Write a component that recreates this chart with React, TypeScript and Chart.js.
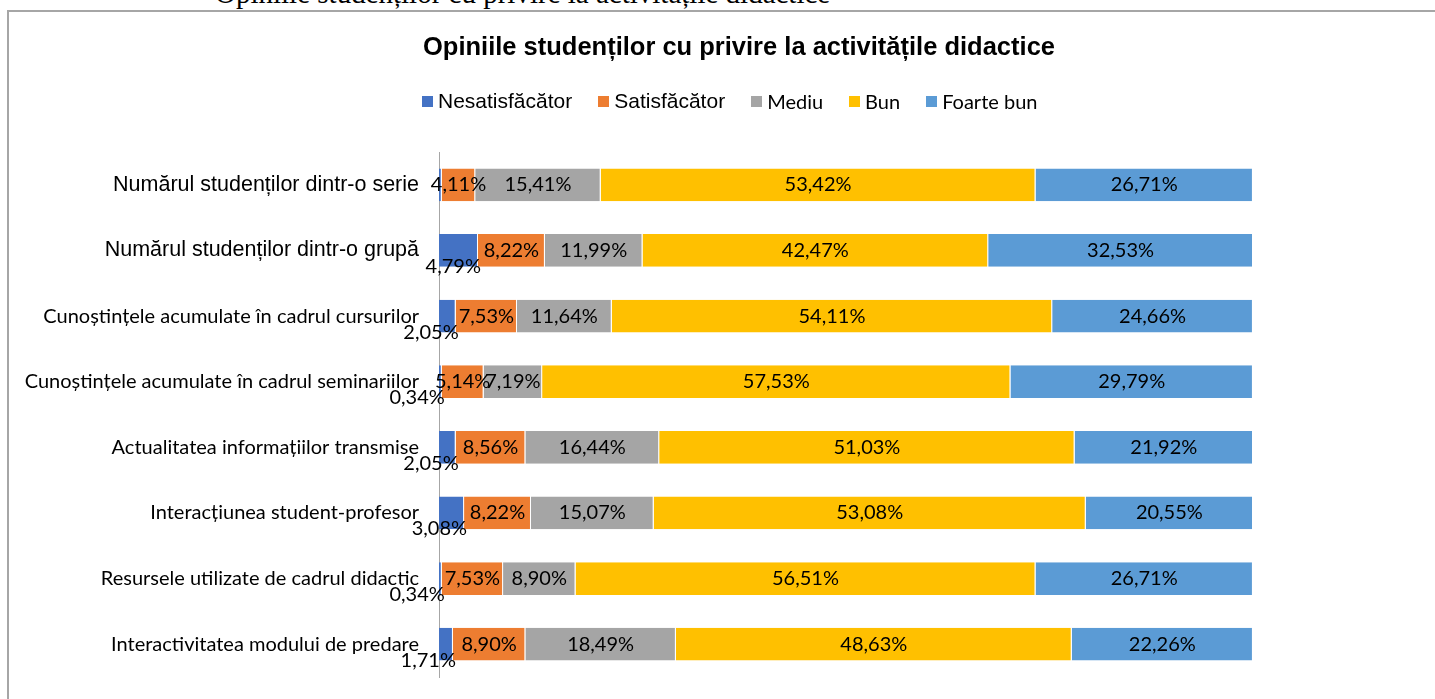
import React, { useEffect, useRef } from "react";
import { Chart, registerables } from "chart.js";

Chart.register(...registerables);

const pageHeading = "Opiniile studenților cu privire la activitățile didactice";
const chartTitle = "Opiniile studenților cu privire la activitățile didactice";

const categories = [
  "Numărul studenților dintr-o serie",
  "Numărul studenților dintr-o grupă",
  "Cunoștințele acumulate în cadrul cursurilor",
  "Cunoștințele acumulate în cadrul seminariilor",
  "Actualitatea informațiilor transmise",
  "Interacțiunea student-profesor",
  "Resursele utilizate de cadrul didactic",
  "Interactivitatea modului de predare",
];

const seriesNames = ["Nesatisfăcător", "Satisfăcător", "Mediu", "Bun", "Foarte bun"];

const nesatisfacator = [0.34, 4.79, 2.05, 0.34, 2.05, 3.08, 0.34, 1.71];
const satisfacator = [4.11, 8.22, 7.53, 5.14, 8.56, 8.22, 7.53, 8.9];
const mediu = [15.41, 11.99, 11.64, 7.19, 16.44, 15.07, 8.9, 18.49];
const bun = [53.42, 42.47, 54.11, 57.53, 51.03, 53.08, 56.51, 48.63];
const foarteBun = [26.71, 32.53, 24.66, 29.79, 21.92, 20.55, 26.71, 22.26];

// labels of the first series that are not shown in the original
const hiddenFirstSeriesLabels = [0];

const seriesColors = ["#4472C4", "#ED7D31", "#A5A5A5", "#FFC000", "#5B9BD5"];

const ARIAL = "'Liberation Sans', Arial, sans-serif";
const CALIBRI = "Lato, 'Open Sans', sans-serif";
const arialTickRows = [0, 1];
const arialLegendItems = [0, 1];

const fmt = (v: number) => v.toFixed(2).replace(".", ",") + "%";

const dataLabelPlugin = {
  id: "segmentLabels",
  afterDatasetsDraw(chart: any) {
    const ctx = chart.ctx;
    ctx.save();
    ctx.fillStyle = "#000";
    ctx.font = `20px ${CALIBRI}`;
    ctx.textBaseline = "middle";
    chart.data.datasets.forEach((ds: any, di: number) => {
      const meta = chart.getDatasetMeta(di);
      meta.data.forEach((el: any, i: number) => {
        if (di === 0 && hiddenFirstSeriesLabels.includes(i)) return;
        const t = fmt(ds.data[i] as number);
        if (di === 0) {
          ctx.textAlign = "right";
          ctx.fillText(t, el.x + 3, el.y + 16);
        } else {
          ctx.textAlign = "center";
          ctx.fillText(t, (el.x + el.base) / 2, el.y);
        }
      });
    });
    ctx.restore();
  },
};

export default function App() {
  const canvasRef = useRef<HTMLCanvasElement | null>(null);

  useEffect(() => {
    const canvas = canvasRef.current;
    if (!canvas) return;
    const values = [nesatisfacator, satisfacator, mediu, bun, foarteBun];
    const chart = new Chart(canvas, {
      type: "bar",
      data: {
        labels: categories,
        datasets: seriesNames.map((name, i) => ({
          label: name,
          data: values[i],
          backgroundColor: seriesColors[i],
          borderColor: "#ffffff",
          borderWidth: { top: 0, bottom: 0, left: 0, right: 1 },
          borderSkipped: false,
          barPercentage: 0.5,
          categoryPercentage: 1,
        })),
      },
      options: {
        indexAxis: "y",
        responsive: false,
        animation: false,
        layout: { padding: { left: 0, right: 216, top: 140, bottom: 35 } },
        plugins: {
          legend: { display: false },
          tooltip: { enabled: false },
          title: { display: false },
        },
        scales: {
          x: { type: "linear", stacked: true, min: 0, max: 100, display: false },
          y: {
            type: "category",
            stacked: true,
            grid: { display: false, drawTicks: false },
            border: { display: true, color: "#a6a6a6", width: 1 },
            ticks: {
              color: "#000",
              padding: 20,
              autoSkip: false,
              font: (c: any) =>
                arialTickRows.includes(c.index)
                  ? { family: ARIAL, size: 21.5 }
                  : { family: CALIBRI, size: 20 },
            },
            afterFit: (s: any) => {
              s.width = 430;
            },
          },
        },
      },
      plugins: [dataLabelPlugin],
    } as any);
    return () => chart.destroy();
  }, []);

  return (
    <div
      style={{
        position: "fixed",
        left: 0,
        top: 0,
        width: "100vw",
        height: "100vh",
        overflow: "hidden",
        background: "#fff",
      }}
    >
      <div
        style={{
          position: "absolute",
          left: 215,
          top: -21,
          fontFamily: "'Liberation Serif', 'Times New Roman', serif",
          fontSize: 29,
          lineHeight: "29px",
          whiteSpace: "nowrap",
          color: "#000",
        }}
      >
        {pageHeading}
      </div>
      <div
        style={{
          position: "absolute",
          left: 7,
          top: 10,
          width: 1480,
          height: 720,
          borderLeft: "2px solid #a6a6a6",
          borderTop: "2px solid #a6a6a6",
        }}
      />
      <canvas
        ref={canvasRef}
        width={1460}
        height={700}
        style={{ position: "absolute", left: 9, top: 12, width: 1460, height: 700 }}
      />
      <div
        style={{
          position: "absolute",
          left: 9,
          top: 31,
          width: 1460,
          textAlign: "center",
          fontFamily: ARIAL,
          fontWeight: "bold",
          fontSize: 25.5,
          lineHeight: "30px",
          whiteSpace: "nowrap",
          color: "#000",
        }}
      >
        {chartTitle}
      </div>
      <div
        style={{
          position: "absolute",
          left: 422,
          top: 89,
          display: "flex",
          alignItems: "center",
          height: 24,
          whiteSpace: "nowrap",
          color: "#000",
        }}
      >
        {seriesNames.map((name, i) => (
          <div
            key={name}
            style={{ display: "flex", alignItems: "center", marginRight: i < seriesNames.length - 1 ? 26 : 0 }}
          >
            <span
              style={{
                display: "inline-block",
                width: 11,
                height: 11,
                background: seriesColors[i],
                marginRight: 5,
              }}
            />
            <span
              style={{
                fontFamily: arialLegendItems.includes(i) ? ARIAL : CALIBRI,
                fontSize: arialLegendItems.includes(i) ? 21 : 20,
                lineHeight: "24px",
              }}
            >
              {name}
            </span>
          </div>
        ))}
      </div>
    </div>
  );
}
